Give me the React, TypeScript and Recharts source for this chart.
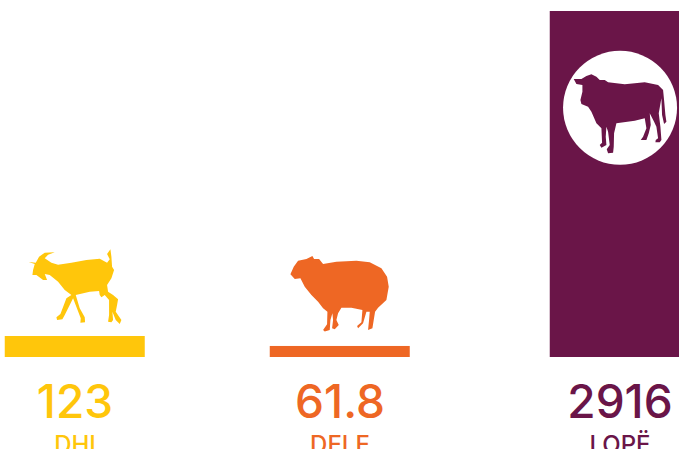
import { BarChart, Bar, XAxis, YAxis } from "recharts";

const categories = ["DHI", "DELE", "LOPË"];
// printed figures
const valueLabels = ["123", "61.8", "2916"];
// the drawn bars are not in proportion to the printed figures, so heights are read off the picture
const barValues = [177, 93, 2916];

const colors = ["#FFC60B", "#EE6724", "#6A1548"];

// middle column sits a little left of an even spacing
const columnNudge = [0, -7.5, 0];

const goat =
  "M87 66 L108 68 L118 50 L135 38 L165 37 L145 44 L135 55 L155 68 L175 74 L215 68 L260 60 L300 56 L322 68 L330 58 L322 42 L332 28 L335 50 L337 80 L343 90 L335 115 L322 135 L325 155 L340 165 L355 178 L352 195 L348 215 L365 240 L360 252 L348 240 L338 215 L340 240 L335 247 L325 245 L328 225 L328 180 L315 165 L305 172 L300 165 L298 153 L270 155 L228 165 L240 205 L255 232 L256 247 L242 248 L243 235 L220 175 L195 225 L188 238 L172 240 L170 232 L182 222 L200 175 L215 165 L195 150 L175 125 L150 105 L135 102 L142 120 L130 120 L110 105 L98 105 L100 90 L105 72 Z";
const sheep =
  "M62 88 L72 65 L85 47 L110 42 L128 33 L133 42 L148 42 L160 57 L200 50 L260 47 L300 52 L335 70 L352 95 L357 125 L350 165 L325 188 L316 200 L312 225 L308 250 L295 255 L296 245 L298 225 L300 200 L290 200 L280 235 L265 250 L262 243 L275 232 L278 195 L245 188 L215 188 L205 205 L200 225 L207 240 L195 253 L187 250 L190 225 L188 205 L182 225 L180 255 L165 260 L160 255 L172 238 L173 200 L160 190 L145 170 L125 150 L105 125 L92 100 L75 102 Z";
const cow =
  "M87 237 L110 237 L125 228 L140 223 L155 230 L165 240 L180 240 L190 247 L240 253 L300 247 L340 255 L355 270 L358 300 L362 345 L365 365 L358 372 L352 345 L350 295 L342 340 L347 380 L350 420 L345 427 L332 427 L333 420 L340 415 L335 380 L328 365 L315 340 L318 375 L312 400 L305 420 L288 420 L295 410 L305 385 L300 355 L270 362 L215 370 L208 400 L207 440 L205 458 L190 460 L186 448 L195 435 L190 395 L185 380 L183 410 L185 435 L170 443 L165 435 L172 428 L170 385 L155 370 L140 335 L130 320 L110 312 L107 300 L113 275 L113 255 L95 252 Z";

const data = categories.map((name, i) => ({ name, value: barValues[i] }));

const AnimalBar = (props: any) => {
  const { x, y, width, height, index } = props;
  const bx = x + columnNudge[index];
  return (
    <g>
      <rect x={bx} y={y} width={width} height={height} fill={colors[index]} />
      {index === 0 && (
        <path d={goat} fill={colors[0]} transform={`translate(${bx - 5} ${y - 96}) scale(0.3333)`} />
      )}
      {index === 1 && (
        <path d={sheep} fill={colors[1]} transform={`translate(${bx} ${y - 101}) scale(0.3333)`} />
      )}
      {index === 2 && (
        <g>
          <circle cx={bx + 70.3} cy={y + 96.8} r={57} fill="#fff" />
          <path d={cow} fill={colors[2]} transform={`translate(${bx - 5} ${y - 11}) scale(0.3333)`} />
        </g>
      )}
    </g>
  );
};

const ColumnTick = (props: any) => {
  const { x, y, index, payload } = props;
  const cx = x + columnNudge[index];
  return (
    <g fontFamily="Inter, sans-serif" textAnchor="middle" fill={colors[index]}>
      <text x={cx} y={y + 55} fontSize={46} fontWeight={500} fill={colors[index]}>
        {valueLabels[index]}
      </text>
      <text x={cx} y={y + 90} fontSize={24} fontWeight={500} fill={colors[index]}>
        {payload.value}
      </text>
    </g>
  );
};

export default function App() {
  return (
    <div style={{ position: "absolute", left: 0, top: 0, width: 679, height: 449, overflow: "hidden", background: "#fff" }}>
      <BarChart
        width={679}
        height={449}
        data={data}
        margin={{ top: 11, right: -77.25, bottom: 0, left: -61.25 }}
      >
        <XAxis
          dataKey="name"
          height={92}
          axisLine={false}
          tickLine={false}
          interval={0}
          tickMargin={0}
          tick={<ColumnTick />}
        />
        <YAxis hide domain={[0, 2916]} />
        <Bar dataKey="value" barSize={140} shape={<AnimalBar />} isAnimationActive={false} />
      </BarChart>
    </div>
  );
}
